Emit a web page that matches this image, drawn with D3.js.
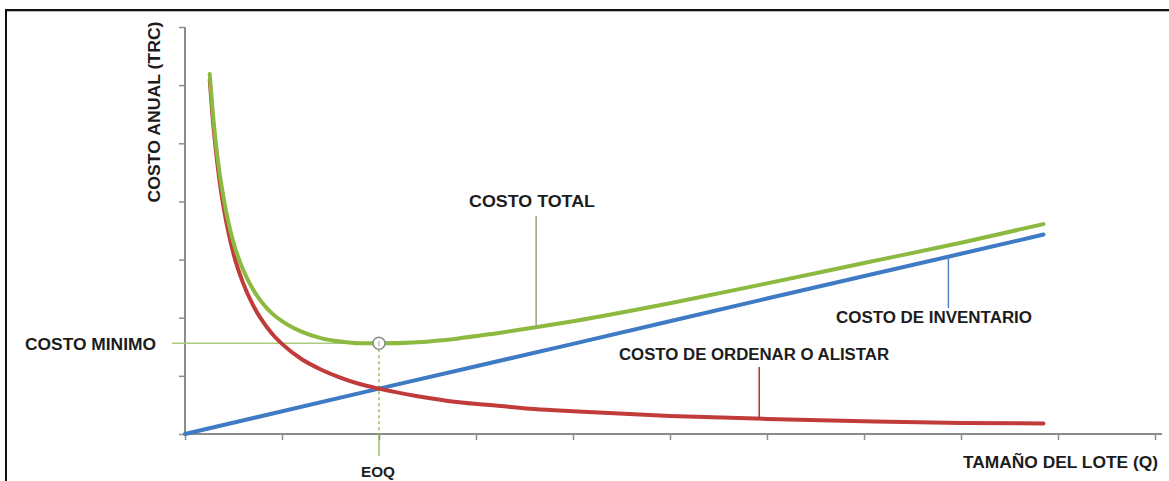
<!DOCTYPE html>
<html lang="es">
<head>
<meta charset="utf-8">
<title>Lote económico de pedido (EOQ)</title>
<script src="https://cdn.jsdelivr.net/npm/d3@7"></script>
<style>
  html, body { margin: 0; padding: 0; background: #ffffff; }
  svg { display: block; }
  .lbl { font-family: "Liberation Sans", Arial, sans-serif; font-weight: bold; fill: #1c1c1c; }
</style>
</head>
<body>
<svg id="chart" width="1169" height="481"></svg>
<script>
// Tamaño del lote (Q) en unidades del eje horizontal
const lotSizes = [0.255, 0.28, 0.32, 0.36, 0.4, 0.45, 0.5, 0.6, 0.7, 0.8, 0.9, 1.0,
                  1.2, 1.4, 1.6, 1.8, 2.0, 2.4, 2.8, 3.2, 3.6, 4.0, 5.0, 6.0, 7.0, 8.0, 8.85];
// Costo de ordenar o alistar
const orderCost = [6.09, 5.54, 4.85, 4.31, 3.88, 3.45, 3.10, 2.59, 2.22, 1.94, 1.72, 1.55,
                   1.29, 1.11, 0.97, 0.86, 0.78, 0.65, 0.55, 0.49, 0.43, 0.39, 0.31, 0.26, 0.22, 0.19, 0.18];
// Costo total
const totalCost = [6.19, 5.65, 4.97, 4.45, 4.04, 3.62, 3.29, 2.82, 2.49, 2.25, 2.07, 1.94,
                   1.76, 1.65, 1.59, 1.56, 1.56, 1.58, 1.64, 1.73, 1.83, 1.94, 2.25, 2.59, 2.94, 3.29, 3.61];
// Costo de inventario (recta)
const inventoryQ    = [0, 2, 4, 6, 8, 8.85];
const inventoryCost = [0, 0.78, 1.55, 2.33, 3.10, 3.43];

// Punto óptimo
const eoqQ = 2.0;
const minCost = 1.56;

// Marcas de los ejes (sin rótulos numéricos)
const xTicks = [0, 1, 2, 3, 4, 5, 6, 7, 8, 9, 10];
const yTicks = [0, 1, 2, 3, 4, 5, 6, 7];

const COLORS = { total: "#8cb93f", order: "#c23b3b", inventory: "#3e7bc4", axis: "#8c8c8c" };

const svg = d3.select("#chart");

const x = d3.scaleLinear().domain([0, 10]).range([185, 1155]);
const y = d3.scaleLinear().domain([0, 7]).range([434, 27]);

// marco exterior (borde superior e izquierdo)
svg.append("line").attr("x1", 6).attr("x2", 1169).attr("y1", 11.6).attr("y2", 11.6)
  .attr("stroke", "#b5b5b5").attr("stroke-width", 1);
svg.append("line").attr("x1", 6).attr("x2", 1169).attr("y1", 10).attr("y2", 10)
  .attr("stroke", "#111").attr("stroke-width", 2);
svg.append("line").attr("x1", 6).attr("x2", 6).attr("y1", 9).attr("y2", 481)
  .attr("stroke", "#111").attr("stroke-width", 2);

// ejes
const xAxis = d3.axisBottom(x).tickValues(xTicks).tickSize(6).tickFormat("");
const yAxis = d3.axisLeft(y).tickValues(yTicks).tickSize(6).tickFormat("");

const gx = svg.append("g").attr("transform", `translate(0,${y(0)})`).call(xAxis);
gx.select(".domain").attr("d", `M${x(0)},0H1162`);
const gy = svg.append("g").attr("transform", `translate(${x(0)},0)`).call(yAxis);
gy.select(".domain").attr("d", `M0,${y(0)}V${y(7)}`);
[gx, gy].forEach(g => {
  g.select(".domain").attr("stroke", COLORS.axis).attr("stroke-width", 2);
  g.selectAll(".tick line").attr("stroke", COLORS.axis).attr("stroke-width", 1.5);
});

// guías del costo mínimo y del EOQ
svg.append("line")
  .attr("x1", 172).attr("x2", x(eoqQ) - 6)
  .attr("y1", y(minCost)).attr("y2", y(minCost))
  .attr("stroke", "#a9cd7c").attr("stroke-width", 1.5);
svg.append("line")
  .attr("x1", x(eoqQ)).attr("x2", x(eoqQ))
  .attr("y1", y(minCost) + 6).attr("y2", y(0))
  .attr("stroke", "#86b64a").attr("stroke-width", 1.3).attr("stroke-dasharray", "3,3");
svg.append("line")
  .attr("x1", x(eoqQ)).attr("x2", x(eoqQ))
  .attr("y1", y(0)).attr("y2", 456)
  .attr("stroke", "#86b64a").attr("stroke-width", 1.3);

// curvas
const line = d3.line().x(d => x(d[0])).y(d => y(d[1])).curve(d3.curveMonotoneX);

svg.append("path")
  .datum(inventoryQ.map((q, i) => [q, inventoryCost[i]]))
  .attr("d", line).attr("fill", "none")
  .attr("stroke", COLORS.inventory).attr("stroke-width", 4).attr("stroke-linecap", "round");

svg.append("path")
  .datum(lotSizes.map((q, i) => [q, orderCost[i]]))
  .attr("d", line).attr("fill", "none")
  .attr("stroke", COLORS.order).attr("stroke-width", 4).attr("stroke-linecap", "round");

svg.append("path")
  .datum(lotSizes.map((q, i) => [q, totalCost[i]]))
  .attr("d", line).attr("fill", "none")
  .attr("stroke", COLORS.total).attr("stroke-width", 4).attr("stroke-linecap", "round");

// marcador del punto óptimo
svg.append("circle")
  .attr("cx", x(eoqQ)).attr("cy", y(minCost)).attr("r", 6)
  .attr("fill", "#fff").attr("stroke", "#8a8a8a").attr("stroke-width", 1.5);
svg.append("line")
  .attr("x1", x(eoqQ)).attr("x2", x(eoqQ))
  .attr("y1", y(minCost) - 2).attr("y2", y(minCost) + 3)
  .attr("stroke", "#9a9a9a").attr("stroke-width", 1);

// valor de una serie en un Q dado (interpolación entre puntos leídos)
function valueAt(qs, vs, q) {
  const i = Math.max(1, d3.bisectLeft(qs, q));
  const t = (q - qs[i - 1]) / (qs[i] - qs[i - 1]);
  return vs[i - 1] + t * (vs[i] - vs[i - 1]);
}

// líneas de referencia de los rótulos
const leaders = [
  { q: 3.62, top: 216, v: valueAt(lotSizes, totalCost, 3.62), color: "#93a876" },
  { q: 7.87, top: 308, v: valueAt(inventoryQ, inventoryCost, 7.87), color: "#4f84cc" },
  { q: 5.92, top: 367, v: valueAt(lotSizes, orderCost, 5.92), color: "#b53333" }
];
leaders.forEach(l => {
  svg.append("line")
    .attr("x1", x(l.q)).attr("x2", x(l.q))
    .attr("y1", l.top).attr("y2", y(l.v))
    .attr("stroke", l.color).attr("stroke-width", 1.5);
});

// rótulos
const labels = [
  { text: "COSTO TOTAL", x: 469, y: 207, w: 126, fs: 16 },
  { text: "COSTO DE INVENTARIO", x: 836, y: 323, w: 196, fs: 16 },
  { text: "COSTO DE ORDENAR O ALISTAR", x: 619, y: 360, w: 270, fs: 16 },
  { text: "COSTO MINIMO", x: 25, y: 350, w: 131, fs: 16 },
  { text: "TAMAÑO DEL LOTE (Q)", x: 963, y: 468, w: 195, fs: 16 },
  { text: "EOQ", x: 361, y: 477, w: 34, fs: 15 }
];
labels.forEach(l => {
  svg.append("text").attr("class", "lbl")
    .attr("x", l.x).attr("y", l.y)
    .attr("font-size", l.fs)
    .attr("textLength", l.w).attr("lengthAdjust", "spacingAndGlyphs")
    .text(l.text);
});

svg.append("text").attr("class", "lbl")
  .attr("transform", "translate(160,112) rotate(-90)")
  .attr("text-anchor", "middle")
  .attr("font-size", 16)
  .attr("textLength", 181).attr("lengthAdjust", "spacingAndGlyphs")
  .text("COSTO ANUAL (TRC)");
</script>
</body>
</html>
